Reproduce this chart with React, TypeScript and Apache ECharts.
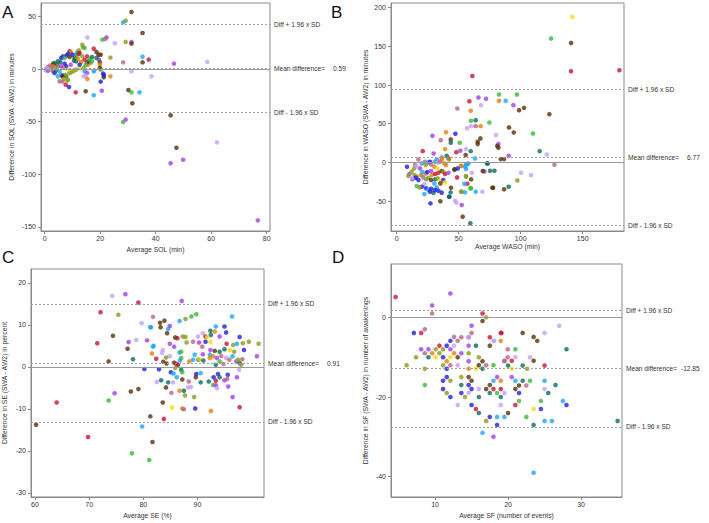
import React, { useEffect, useRef } from "react";
import * as echarts from "echarts";

const palette = [
  "#1f1fd8", // 0 blue
  "#c81432", // 1 red
  "#8c9b1e", // 2 olive
  "#5a300a", // 3 brown
  "#3db83a", // 4 green
  "#0b6b5c", // 5 teal
  "#a040e6", // 6 purple
  "#c4a0f6", // 7 light purple
  "#b86482", // 8 mauve
  "#e0820e", // 9 orange
  "#f2dc10", // 10 yellow
  "#1fa2ff", // 11 light blue
];

// [average, difference, participant colour index]
const solPoints: number[][] = [
  [31.3,54.2,3],[29.2,45.9,2],[28.3,44.3,11],[35.3,34.2,3],[15.4,30,7],[22.3,30,6],[21.8,28.5,8],[20.8,27.9,4],[25.3,24.4,7],[29.2,25.7,2],[31.3,25.7,6],[31.3,24.1,3],[13.6,23.1,2],[13.8,20.6,2],[14.4,20,4],[35.3,11.7,11],[37.5,8.9,1],[35.3,6.3,3],[28.3,6.3,8],[46.6,5.1,6],[58.6,6.7,7],[38.5,-7,7],[31.3,-2.2,7],[23.7,-7,9],[21.3,-7.9,3],[21.3,-5.7,0],[20.2,-12,0],[14.8,-21.2,3],[11.2,-22.2,1],[17.7,-25,11],[20.6,-20.6,6],[30.2,-20,3],[31.3,-22.2,4],[34.2,-22.2,11],[31.6,-32.6,3],[28.3,-50.4,4],[29.2,-48.1,6],[45.4,-44,3],[47.5,-74.8,3],[45.4,-89.6,6],[49.9,-86.2,6],[62.1,-69.7,7],[76.8,-143.8,6],[8.8,-17.1,0],[7.6,-14.9,1],[6.4,-12,8],[17.7,19.3,1],[18.7,16.2,3],[20.2,13.6,3],[23.7,10.8,2],[19.6,8.9,6],
  [12.3,17.7,2],[11.7,15.8,4],[11.2,13.6,11],[12.6,15.2,1],[9,16.8,1],[9.5,15.8,9],[7.8,12.7,0],[8.4,14.3,0],[6.6,12,0],[6,10.5,0],[7.2,10.5,4],[4.8,7.3,5],[3.6,5.7,5],[3,4.8,3],[1.8,3.2,9],[1.2,1.6,6],[0.6,0,6],[0.4,-1.3,7],[1.2,-1.6,6],[2.4,-0.6,2],[3,-2.2,8],[3.6,-3.8,0],[4.2,-1.3,5],[5.4,-2.2,11],[6,-5.4,11],[6.6,-6.3,0],[7.8,-7,5],[8.4,-10.1,2],[7.6,-5.4,2],[9,-3.8,2],[9.6,-3.2,2],[10.5,-1.9,2],[11.4,-0.6,2],[12.6,0.6,10],[14.1,1,2],[15.6,4.1,9],[16.5,5.7,9],[15.3,6.3,1],[14.8,4.1,4],[16,7.3,5],[13.2,6.7,9],[14.4,8.9,1],[15.3,12,1],[16.2,9.5,4],[17.1,11.4,5],[18.7,10.5,5],[19.9,6.3,3],[19.9,4.1,9],[19.4,13.6,3],[17.1,7.3,4],[14.4,-2.2,11],[15.3,-3.8,6],[14.8,-6.3,7],[15.4,-9.5,9],[14.1,-7,7],[20.2,-0.6,4],[21.1,-4.4,0],[19.9,1,3],[18,-1.3,7],[9,11.4,3],[10.8,10.5,3],[10.6,7.9,5],[10,13.6,0],[11.4,7.3,5],[12,9.5,9],[4.5,4.1,5],[5.7,6.3,5],[3,2.5,9],[4.8,2.5,8],[7.2,5.1,0],[7.8,2.5,0],[9.4,4.1,6],[6.6,1,9],[8.4,-0.6,10],[4.8,-7,11],[6.4,-7,3],[5.4,-11.7,8],[6.9,-9.5,2],[8.2,-11,2],[1.8,1,2],[4.2,1,2],[6,2.5,6],[12.6,4.1,0],[13.6,12,2],[11.4,12,4],[12.3,14.3,1],[17.7,-2.2,11],[2,0.5,7],[0.8,0.8,7],[2.6,1.8,8],
];

const wasoPoints: number[][] = [
  [141.7,188,10],[124.5,160,4],[140.6,154.4,3],[140.6,117.8,1],[179.6,119.1,1],[61,111.8,1],[82.5,87.7,4],[97,87.7,4],[82.5,79.6,9],[87.9,79.6,11],[94.1,74,6],[98.7,67.5,3],[102.7,70.5,3],[123.1,62.4,3],[68,74,7],[72,82.2,6],[65.9,83.9,6],[58.6,79.1,1],[48.9,69.7,8],[59.7,66.7,9],[59.9,53.8,4],[63.7,54.6,5],[59.9,46.9,7],[63.7,46.9,8],[56.7,44.3,7],[67.7,46.9,9],[74.7,51.6,4],[109.9,37.4,4],[90.6,45.2,3],[94.4,38.7,3],[80.1,35.3,7],[82,23.7,6],[81.1,21.1,3],[82,18.9,3],[67.5,31,3],[65.3,26.7,3],[65.3,23.7,3],[115.3,14.6,5],[121,10.3,7],[127.2,-3,8],[90.3,8.6,6],[83.9,4.3,3],[86.6,4.3,3],[100.3,-13.3,7],[108.3,-16.3,7],[97.3,-23.2,2],[90.3,-31.4,5],[86.6,-34.8,3],[77.7,-32.7,3],[78.8,-10.8,5],[73.4,-1.3,5],[70.7,-11.6,6],[69.4,-11.2,3],[69.1,-37.8,7],[63.7,-37.8,11],[59.4,-33.5,4],[52.4,-37.8,2],[55.1,-38.7,11],[53.2,-70.1,3],[59.4,-78.7,5],[52.4,-55,6],[48.2,-52,7],[35.2,-50.3,3],[27.2,-52.9,0],[42.5,-44.3,0],[43.5,-38.7,5],[57,-27.5,1],[54.6,-27.5,11],[55.9,-17.6,2],[55.9,-8.6,11],[51.9,-4.3,9],[55.9,-2.6,11],
  [28.8,34.4,6],[39.8,39.1,9],[47.3,37,0],[35.5,28.8,8],[43.6,29.7,3],[43.6,25.4,5],[50.8,25.4,4],[39,17.2,9],[21,14.6,1],[29.8,11.6,6],[48.1,13.3,1],[55.9,17.2,7],[51.3,15.1,6],[59.7,14.6,5],[55.6,9.5,3],[40.3,8.6,5],[41.9,5.2,1],[36.3,6.5,8],[32.3,3.9,11],[36.3,3.9,9],[42.2,3.9,2],[17.5,3.9,8],[8.3,-5.6,0],[14.8,-3.4,8],[22.8,0.9,8],[25.5,0,11],[26.9,0.9,0],[30.9,0.9,11],[33.1,-0.4,7],[34.9,0.9,8],[38.4,-1.3,9],[20.2,-1.3,11],[23.4,-3.4,2],[27.7,-2.6,8],[30.4,-5.6,9],[32.8,-7.7,10],[39.8,-3.4,9],[46.8,-9,5],[51.9,-4.7,9],[56.7,-2.6,11],[10.2,-15,6],[12.1,-12,2],[14.3,-16.3,2],[16.1,-18.5,2],[9.4,-17.6,2],[18.8,-7.7,6],[20.7,-12.5,11],[23.4,-14.2,8],[24.7,-12.5,0],[27.7,-11.2,6],[19.6,-16.3,2],[28.2,-16.3,9],[30.9,-15,1],[33.6,-13.3,1],[36.3,-11.2,3],[37.6,-12,2],[39,-15,1],[41.7,-13.3,6],[46.5,-9,3],[48.7,-19.4,1],[55.9,-18.5,2],[15.3,-19.8,0],[17.5,-22.8,0],[12.6,-21.9,6],[21.5,-19.4,8],[23.9,-21.9,4],[25.5,-19.8,2],[27.7,-22.8,3],[30.9,-21.9,5],[33.1,-20.6,2],[34.9,-24.1,10],[37.6,-22.8,0],[39,-25.8,10],[30.4,-27.1,11],[35.2,-27.1,3],[22.3,-28,7],[16.1,-30.5,4],[20.2,-31.4,0],[18.3,-32.3,2],[23.7,-33.5,0],[25.5,-35.7,11],[27.7,-34,0],[32.3,-32.3,11],[22.3,-40.9,11],[26.9,-37.8,0],[29.6,-39.1,5],[30.9,-35.7,0],[33.6,-36.6,0],[36.3,-39.1,0],[43.8,-32.7,3],[51.9,-37.8,2],[60,-33.5,4],[60,-21.9,3],[60.5,-13.3,7],[77.2,-32.7,3],[42.2,-44.3,5],[47,-49.5,7],[75.3,-10.8,5],[49.2,-7.7,0],[55.1,-5.6,11],[57.8,-1.3,11],[63.2,5.2,11],[72.8,-1.3,5],[14,-8,2],[16,-5,7],[12,-20,7],
];

const sePoints: number[][] = [
  [74.26,16.9,7],[76.7,17.3,6],[79.1,15.3,1],[87.1,15.7,6],[72.1,13,1],[75.4,12.4,2],[79.7,10.4,7],[77.3,5.9,6],[78.7,6.4,7],[80.7,6.3,6],[71.5,5.6,1],[74.4,7.4,3],[77.1,4.3,3],[78.1,1.8,5],[73.6,1.3,3],[74.7,-6.3,6],[77.7,-5.9,3],[79.1,-5.3,3],[73.6,-8,4],[64,-8.5,1],[60.2,-13.8,3],[69.8,-16.7,1],[79.8,-14.2,11],[77.9,-20.6,4],[81.1,-22.2,4],[81.7,-17.9,3],[81.3,-11.8,3],[83.8,-12.4,1],[83.6,-8.5,3],[85.3,-9.7,10],[87.2,-9.9,9],[87.5,-10.1,8],[89.6,-9.9,0],[92.5,-10.5,9],[97.8,-9.6,1],[87.7,-6.8,2],[87.5,-5.7,5],[86.7,-5.7,9],[85.2,-6.2,8],[89.4,-7.2,2],[96.5,-7.2,6],[81.8,4.8,11],[81.8,11.9,8],[81.3,9.4,11],[83.1,10.5,3],[83.9,11,3],[83.2,9.4,3],[84.6,9,11],[84.4,8,3],[84.9,9.7,6],[87.8,11.4,2],[86.7,10.9,11],[88.9,12,4],[89.8,12.5,4],[81.4,9.4,11],[81.9,5,11],[84.9,5.5,6],[85.7,4.8,6],[86.3,6.8,1],[85.9,7,3],[87.3,7.2,2],[87.8,7.1,2],[88,5.8,2],[89.2,6,8],[90.3,5.8,6],[90.9,4.8,8],[90.1,7.2,7],[91,8,7],[91.5,7.2,1],[91.8,7.1,10],[92.5,7.6,5],[93.2,8.4,9],[93.4,9.6,11],[92.4,8.6,5],[92.4,5.9,10],[91.5,6,0],[94.1,7.2,6],[95,9.6,0],[95.3,8.2,0],[96.4,12,11],[97.8,7.1,0],[95.4,5.5,1],[96.6,5.2,2],[97.3,5.5,11],[98.4,5.6,2],[99.5,6,2],[101.3,5.5,2],[101,2.5,6],[98.6,4,0],[96.8,3.6,2],[96,4,10],[95,4.2,5],[94.1,3.6,5],[93.2,3.8,3],[92.4,4,6],[92.3,2.9,11],[91,3,6],[89.5,2.9,11],[90.2,1.7,5],[90.4,1.8,10],[91.1,1.5,5],[92.3,2.1,9],[92.9,2.5,9],[93.6,2.1,6],[94.4,2.6,8],[95.3,2.1,7],[95.9,1.7,8],[96.5,2.5,11],[97.2,1.3,6],[97.8,0.9,5],[98.3,1.8,8],[97.5,1.7,2],[98.1,0.5,2],[94.1,1.3,4],[93.4,0.5,5],[94.8,0.7,8],[86.7,3.4,11],[87,3.6,4],[87,2.1,4],[86.8,1.5,11],[86.4,0.5,3],[85.7,1,3],[86.1,0.7,1],[83.6,4,7],[84.9,2.5,7],[89.2,1.7,11],[88.5,1.3,9],
  [82.9,-0.6,0],[85.9,-0.3,2],[87,-0.7,5],[87.2,-1.3,4],[87.2,-3,3],[85.1,-1.3,0],[85.6,-1.6,11],[86.2,-2.5,11],[83.3,-3.2,5],[84.6,-3.7,5],[85.5,-3.7,7],[88.4,-3.5,8],[89.7,-2.5,3],[89.8,-1.7,0],[90.6,-1.5,11],[90.6,-3.7,5],[88.3,-4.9,7],[92.1,-3.5,5],[92.9,-4.3,4],[93.4,-4.4,6],[95,-3.2,6],[93.4,-3.3,1],[94.1,-2.5,5],[95.6,-1.9,0],[95.7,-4.7,6],[95.5,-2.9,8],[93.6,-5.1,7],[97.3,-2.5,6],[97.7,-0.7,7],[93,-2.5,0],[88.8,-4.8,7],[93.8,-1.7,0],[84.3,0.8,3],[83.7,1.2,3],[84.2,2.2,2],[83.5,3.3,7],[80.2,-0.5,0],[82.5,-3.6,7],[84.2,-4.9,3],[82.4,1.9,1],[81.6,3.2,9],
];

const sfPoints: number[][] = [
  [4.6,5.1,1],[12.1,6,6],[9.6,3,6],[9.6,1,8],[16.5,1,1],[17,0,2],[16.5,-0.9,3],[27,-2.1,7],[15,-2.1,6],[7.1,-3.9,0],[8.1,-3.9,1],[8.6,-3,8],[25,-3.9,7],[28,-8,5],[22,-3.9,3],[23.5,-4.9,3],[24,-5.9,3],[19.1,-3.9,1],[19,-5.9,9],[18.1,-5.9,7],[17.5,-5,1],[12.6,-4.9,8],[13.6,-5,8],[12.1,-5.9,0],[14.6,-5,6],[15,-3.9,8],[15.6,-7.1,5],[17.5,-7.1,3],[25,-12.1,1],[23,-10,7],[23.5,-10.9,3],[22,-12.1,5],[22.6,-12.9,2],[22.5,-17.1,8],[23,-15.9,4],[22,-15.9,5],[21.5,-17.1,3],[21.5,-19,0],[21.5,-21,4],[21,-22,1],[21,-18,3],[21,-15.9,11],[20.5,-15,6],[21,-8,4],[21,-10,7],[19.95,-8,8],[19.95,-10,8],[20.5,-10.9,1],[19.5,-10.9,8],[20,-12.1,5],[20.5,-12.9,10],[25,-15.9,11],[25,-18,7],[25.5,-19,5],[26.5,-17,5],[24.5,-21,4],[24.5,-23,0],[23.5,-23,10],[27.5,-21,11],[28,-22,0],[25,-26,11],[26,-26,11],[23.5,-27,5],[22.5,-25,4],[35,-26,5],[23.5,-39,11],[20,-24,3],[19.5,-25,11],[18.5,-25,11],[18.5,-27,0],[18,-30,6],[16.5,-29,11],[17,-26,2],[17.5,-25,0],[15.6,-23,1],[16,-24,5],[15,-22,0],[13.1,-22,7],[12.1,-20,0],[11.6,-19,2],[11.1,-18,0],[11.1,-15.9,0],[11.6,-15,0],[12.1,-15.9,2],[13.6,-17,5],[13.6,-15,2],[13.6,-19,0],[14.1,-20,2],[14.6,-19,7],[14.6,-17,0],[15,-18,0],[15,-15.9,3],[14.6,-15,3],[16,-18,7],[16,-20,5],[17.5,-19,5],[18,-18,1],[18.5,-19,4],[19,-20,5],[17.5,-17,3],[17,-18,3],[18.5,-15,6],[18,-15.9,11],[19,-15.9,9],[19,-18,1],[19,-22,7],[19.5,-19,7],[7.4,-10,2],[6.1,-12,2],[8.6,-12.9,2],[8.6,-17,4],[9.1,-10,5],[8.6,-9,8],[8.1,-8,6],[9.1,-8,6],[9.6,-9,9],[10.1,-8,2],[10.1,-10,10],[10.6,-9,2],[10.6,-7.1,1],[11.1,-8,2],[11.1,-10,0],[11.1,-12,2],[11.6,-12.9,0],[11.6,-11,9],[11.6,-7.1,0],[12.6,-7.1,7],[12.1,-8,6],[12.1,-10,10],[12.1,-12,8],[12.6,-9,9],[13.1,-10,3],[13.1,-12,7],[13.1,-5.9,8],[13.6,-9,6],[14.6,-7.1,6],[14.6,-9,2],[14.6,-11,6],[14.6,-12.9,9],[14.6,-5,7],[15.6,-12.9,10],[16,-10,2],[16,-12,3],[16.5,-11,3],[16.5,-12.9,5],[17,-12,8],[18,-12,4],[18,-5.9,7],[19.5,-11,8],[19,-3.9,1],
];

const meanDiff = [0.59, 6.77, 0.91, -12.85];
const upperLoA = [42.1, 94.2, 15.0, 1.75];
const lowerLoA = [-40.9, -81.3, -13.1, -27.5];

const xTicks = [[0, 20, 40, 60, 80], [0, 50, 100, 150], [60, 70, 80, 90], [10, 20, 30]];
const yTicks = [[-150, -100, -50, 0, 50], [-50, 0, 50, 100, 150, 200], [-30, -20, -10, 0, 10, 20], [-40, -20, 0]];

const xTitles = ["Average SOL (min)", "Average WASO (min)", "Average SE (%)", "Average SF (number of events)"];
const yTitles = [
  "Difference in SOL (SWA - AW2) in minutes",
  "Difference in WASO (SWA - AW2) in minutes",
  "Difference in SE (SWA - AW2) in percent",
  "Difference in SF (SWA - AW2) in number of awakenings",
];
const panelLetters = ["A", "B", "C", "D"];

const FONT = "'Liberation Sans', Arial, Helvetica, sans-serif";

export default function App() {
  const ref = useRef<HTMLDivElement>(null);

  useEffect(() => {
    if (!ref.current) return;
    const chart = echarts.init(ref.current, null, { renderer: "svg" });

    const allPoints = [solPoints, wasoPoints, sePoints, sfPoints];
    const grids = [
      { left: 41, top: 3, width: 229, height: 228 },
      { left: 391, top: 3, width: 233, height: 228 },
      { left: 31, top: 269, width: 233, height: 228 },
      { left: 391, top: 264, width: 231, height: 233 },
    ];
    const xRanges = [[-1.3, 81.2], [-4.6, 183.3], [59.26, 102.3], [3.97, 35.6]];
    const yRanges = [[-153.9, 62.7], [-88.6, 206], [-31, 23.3], [-45.1, 13.4]];
    const xGap = [15, 12, 15, 15];
    const yGap = [26, 22, 23, 22];
    const letterPos = [
      [2, 4],
      [331, 4],
      [2, 249],
      [332, 249],
    ];

    const axisColor = "#8a8a8a";
    const textColor = "#333";

    const option: any = {
      animation: false,
      backgroundColor: "#fff",
      textStyle: { fontFamily: FONT },
      grid: grids.map((g) => ({ ...g, show: true, borderColor: axisColor, borderWidth: 1, backgroundColor: "transparent" })),
      xAxis: grids.map((_, i) => ({
        type: "value",
        gridIndex: i,
        min: xRanges[i][0],
        max: xRanges[i][1],
        name: xTitles[i],
        nameLocation: "middle",
        nameGap: xGap[i],
        nameTextStyle: { fontSize: 6.8, color: textColor, fontFamily: FONT },
        axisLine: { show: true, onZero: false, lineStyle: { color: axisColor, width: 1 } },
        axisTick: { show: true, length: 3, customValues: xTicks[i], lineStyle: { color: axisColor } },
        axisLabel: { customValues: xTicks[i], fontSize: 7, color: textColor, margin: 4, fontFamily: FONT },
        splitLine: { show: false },
      })),
      yAxis: grids.map((_, i) => ({
        type: "value",
        gridIndex: i,
        min: yRanges[i][0],
        max: yRanges[i][1],
        name: yTitles[i],
        nameLocation: "middle",
        nameGap: yGap[i],
        nameTextStyle: { fontSize: 6.8, color: textColor, fontFamily: FONT },
        axisLine: { show: true, onZero: false, lineStyle: { color: axisColor, width: 1 } },
        axisTick: { show: true, length: 3, customValues: yTicks[i], lineStyle: { color: axisColor } },
        axisLabel: { customValues: yTicks[i], fontSize: 7, color: textColor, margin: 5, fontFamily: FONT },
        splitLine: { show: false },
      })),
      series: allPoints.map((pts, i) => ({
        type: "scatter",
        xAxisIndex: i,
        yAxisIndex: i,
        symbol: "circle",
        symbolSize: 4.6,
        silent: true,
        data: pts.map(([x, y, c]) => ({ value: [x, y], itemStyle: { color: palette[c] } })),
        markLine: {
          silent: true,
          symbol: ["none", "none"],
          animation: false,
          label: {
            position: "end",
            distance: 4,
            fontSize: 6.6,
            color: textColor,
            fontFamily: FONT,
          },
          data: [
            {
              yAxis: 0,
              label: { show: false },
              lineStyle: { color: "#9a9a9a", type: "solid", width: 1 },
            },
            {
              yAxis: upperLoA[i],
              label: { show: true, formatter: "Diff + 1.96 x SD" },
              lineStyle: { color: "#a0a0a0", type: [2, 2], width: 1 },
            },
            {
              yAxis: meanDiff[i],
              label: {
                show: true,
                formatter: `{a|Mean difference=}{b|${meanDiff[i].toFixed(2)}}`,
                rich: {
                  a: { width: meanDiff[i] < 0 ? 55 : 59, fontSize: 6.6, color: textColor, fontFamily: FONT },
                  b: { fontSize: 6.6, color: textColor, fontFamily: FONT },
                },
              },
              lineStyle: { color: "#a0a0a0", type: [2, 2], width: 1 },
            },
            {
              yAxis: lowerLoA[i],
              label: { show: true, formatter: "Diff - 1.96 x SD" },
              lineStyle: { color: "#a0a0a0", type: [2, 2], width: 1 },
            },
          ],
        },
      })),
      graphic: panelLetters.map((t, i) => ({
        type: "text",
        left: letterPos[i][0],
        top: letterPos[i][1],
        style: { text: t, fontSize: 17, fill: "#111", fontFamily: FONT },
      })),
    };

    chart.setOption(option);
    return () => chart.dispose();
  }, []);

  return (
    <div
      ref={ref}
      style={{ position: "fixed", left: 0, top: 0, width: 709, height: 523, background: "#fff" }}
    />
  );
}
